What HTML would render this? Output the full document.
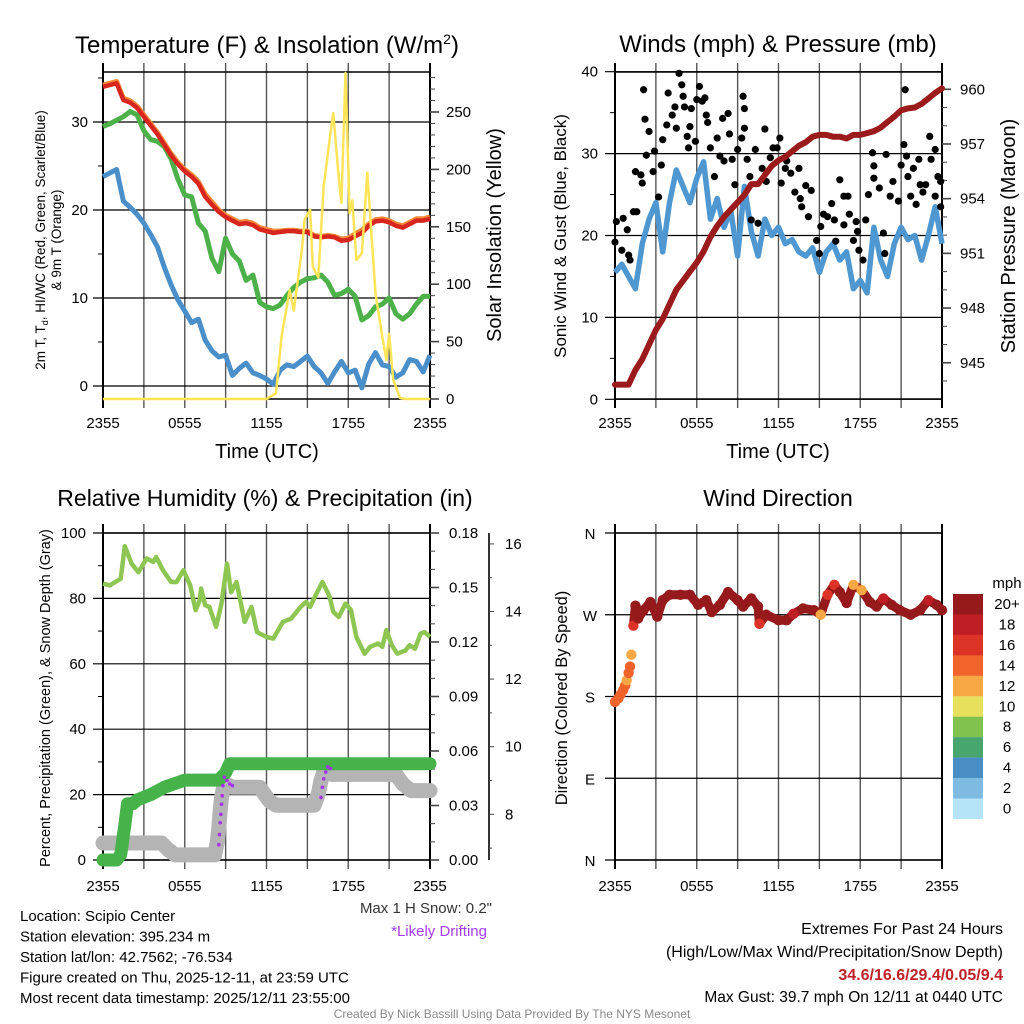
<!DOCTYPE html>
<html><head><meta charset="utf-8"><style>
html,body{margin:0;padding:0;background:#fff;}
svg{display:block;font-family:"Liberation Sans",Arial,sans-serif;}
</style></head><body>
<svg id="c" width="1024" height="1024" viewBox="0 0 1024 1024" xmlns="http://www.w3.org/2000/svg"></svg>
<script>
// ---------- DATA ----------
const halfHourT=[0,0.5,1,1.5,2,2.5,3,3.5,4,4.5,5,5.5,6,6.5,7,7.5,8,8.5,9,9.5,10,10.5,11,11.5,12,12.5,13,13.5,14,14.5,15,15.5,16,16.5,17,17.5,18,18.5,19,19.5,20,20.5,21,21.5,22,22.5,23,23.5,24];
const tempRed=[34,34.2,34.4,32.5,32.2,31.6,30.6,29.6,28.6,27.4,26.2,25.2,24.4,23.8,23,21.5,20.6,19.8,19.2,18.8,18.4,18.5,18.3,17.8,17.6,17.4,17.5,17.6,17.6,17.5,17.5,17.0,16.9,17.0,16.9,16.5,16.6,17.0,17.4,18.2,18.7,18.8,18.6,18.2,18.0,18.4,18.8,18.8,19];
const temp9mOrange=[34.2,34.4,34.6,32.7,32.4,31.8,30.8,29.8,28.8,27.6,26.4,25.4,24.6,24.0,23.2,21.8,20.9,20.0,19.4,19.0,18.6,18.7,18.5,18.0,17.8,17.6,17.6,17.7,17.7,17.6,17.6,17.1,17.0,17.1,17.0,16.7,16.8,17.3,17.7,18.4,18.9,19.0,18.8,18.4,18.2,18.6,19.0,19.0,19.2];
const dewGreen=[29.5,29.8,30.2,30.6,31.2,30.8,29,28,27.8,27.2,25.8,23.5,21.7,21.5,18.5,17.6,14.5,13,16.8,15,14.2,12,12.6,9.5,9,8.8,9.2,10.3,11.2,11.8,12.2,12.3,12.6,11.8,10.3,10.5,11,10.2,7.5,8,9,9.3,10,8.2,7.6,8.2,9.3,10.2,10.2];
const windChillBlue=[23.8,24.2,24.6,21,20.3,19.5,18.5,17.2,15.8,13.5,11.5,9.8,8.5,7.2,7.6,5.2,4,3.3,3.5,1.2,2,2.6,1.5,1.2,0.8,0.2,1.8,2.4,2.2,2.8,3.4,2.2,1.5,0.3,1.6,2.8,1.5,1.8,-0.2,2.5,3.8,2.4,2.2,1,1.5,3,2.8,1.6,3.5];
const solarT=[0,12,12.7,13.1,13.7,14,14.6,14.8,15.2,15.4,15.8,16.2,16.7,16.9,17.3,17.5,17.8,18.1,18.3,18.6,19,19.4,20,20.5,20.8,21,21.3,21.8,22.2,24];
const solarV=[0,0,5,54,95,77,130,156,165,115,106,185,232,249,193,171,284,162,173,121,127,197,92,54,34,57,17,1,0,0];

const windBlue=[15.5,16.5,15,13.5,19,22,24,18,24,28,26,24,27,29,22,24.5,21,23,17.5,26,20.5,17.5,22,20,21,19,19.5,18,17.5,18.5,15.5,18,19,17,18,13.5,14.5,13,21,17,15,19,21,19.5,20,17,20,23.5,19];
const pressure=[943.8,943.8,943.8,944.6,945.2,946,946.8,947.4,948.2,949,949.5,950,950.5,951.1,951.9,952.5,953,953.4,953.8,954.2,954.8,954.8,955.3,955.8,956.1,956.3,956.6,956.9,957.1,957.4,957.5,957.5,957.4,957.4,957.3,957.5,957.5,957.6,957.7,957.9,958.2,958.5,958.85,958.95,959,959.2,959.5,959.8,960.05];
const gustT=[0,0.1,0.6,0.5,1,1.1,0.9,1.35,1.6,1.5,1.9,2,2.1,2.2,2.5,2.3,2.8,2.9,3.2,3.4,3.5,3.8,3.9,4.2,4.4,4.5,4.7,4.9,5,5.1,5.3,5.4,5.5,5.6,5.9,6,6.2,6.4,6.6,6.7,6.8,7,7.3,7.5,7.7,7.9,8,8.3,8.4,8.6,8.8,9,9.3,9.4,9.5,9.5,9.7,9.9,10,10.3,10.5,10.8,11,11.1,11.4,11.6,11.9,12.1,12.2,12.5,12.6,12.9,13.2,13.5,13.6,13.7,14,14.2,14.4,14.8,15,15.1,15.3,15.6,15.9,16.1,16.2,16.5,16.8,16.8,17.1,17.2,17.5,17.7,17.8,17.9,18.2,18.4,18.6,18.9,19,19,19.4,19.7,19.8,19.9,20.2,20.4,20.8,21,21.3,21.2,21.4,21.5,21.7,21.9,22.1,22.3,22.4,22.6,22.8,23.1,23.2,23.5,23.5,23.7,23.9,23.9];
const gustV=[19.2,21.7,22.1,18.2,17.6,17,20.7,22.9,22.9,27.8,27.4,26.4,37.8,34.2,32.7,29.8,27.8,30.3,24.7,28.6,31.7,33.5,37.4,34.7,35.7,33.1,39.8,38.4,37,35.7,32.1,30.7,33.3,35.5,31.5,36.6,38.2,36.4,36.8,34.7,33.8,30.7,27.2,31.9,29.7,34.3,29.1,34.9,32.4,29.3,26.2,30.5,31.9,37,35.5,33.1,29.3,27.2,21.9,30.5,21.5,28.2,33,26.6,29.5,30.7,30.7,31.9,26.4,28.2,29.1,27.6,25.3,28.2,24.5,23.5,26.1,22.3,25.5,19.4,17.8,21.1,22.6,22.3,23.9,21.9,19.3,26.8,21.3,24.8,24.8,22.6,19.4,21.7,20.5,18.2,17,21.9,25,30.1,28.5,27,25.8,20.3,17.8,29.9,24.8,26.6,24.2,28.6,37.8,31.1,29.7,27.2,24.8,28.2,23.8,29.3,26.2,25.3,26.2,32.1,29.3,30.5,24.8,27.2,23.5,26.6];

const rhT=[0,0.5,1.3,1.6,2.1,2.6,3.2,3.7,3.9,4.4,5,5.4,5.9,6.4,6.8,7.1,7.2,7.5,7.8,8.3,8.7,9.1,9.4,9.8,10.4,10.9,11.3,12,12.5,13.2,13.8,14.5,14.9,15.2,15.6,16.1,16.6,16.9,17.3,17.8,18.2,18.6,19.2,19.6,20.2,20.5,20.8,21.2,21.6,22.2,22.5,22.9,23.3,23.6,24];
const rhV=[84.5,84,86,96,90.6,88,92.2,91.2,92.7,88.6,85,85,88.6,84,76.4,79.4,83,77.9,77.4,71.3,78.4,90.6,81.9,85,72.8,77.4,69.7,68.2,67.7,72.8,73.8,77.4,78.9,77.4,80.9,85,80.9,75.9,74.3,78.4,76.4,68.2,63.1,65.2,66.2,65.2,70.3,65.7,63.1,64.1,65.7,64.6,69.2,69.7,68.2];
const precipT=[0,1,1.3,1.4,1.5,1.6,1.8,2.2,2.5,3.5,4.5,6,8.5,9,9.3,12,18,24];
const precipV=[0,0,0.003,0.008,0.014,0.019,0.031,0.031,0.033,0.036,0.040,0.044,0.044,0.048,0.053,0.053,0.053,0.053];
const snowT=[0,4.3,4.8,5.3,8.2,8.4,8.5,8.6,8.7,8.9,9.5,11.5,12.2,12.7,15.5,15.8,16,16.3,16.8,21.5,22,22.6,24];
const snowV=[7.15,7.15,6.95,6.8,6.8,7.2,7.6,8.1,8.5,8.92,8.8,8.8,8.4,8.27,8.27,8.6,9.0,9.37,9.18,9.18,8.9,8.7,8.7];
const driftT=[8.5,8.55,8.6,8.65,8.7,8.75,8.8,8.9,9.1,9.3,9.5,16,16.1,16.2,16.35,16.5,16.7];
const driftV=[7.1,7.4,7.75,8.0,8.3,8.55,8.85,9.1,9.0,8.9,8.85,8.5,8.8,9.05,9.25,9.4,9.35];

const dirT=[0,0.25,0.4,0.6,0.75,0.86,1.0,1.1,1.2,1.35,1.5,1.7,2.1,2.6,3.1,3.5,4,4.8,5.5,6.1,6.7,7.1,7.7,8.3,9,9.4,10,10.5,10.6,11.1,12,12.6,13.1,13.8,14.6,15.1,15.6,16.1,16.5,17,17.5,18.1,18.7,19.2,19.7,20.3,20.9,21.7,22.4,23,23.6,24];
const dirV=[174,178,182,187,192,198,206,213,226,258,280,266,275,284,268,286,292,292,292,281,286,273,281,295,286,279,288,279,260,270,264,264,271,277,275,270,292,303,295,283,303,297,284,279,288,281,275,270,275,286,281,275];
const dirS=[14,14,15,15,14,12,14,14,13,17,21,20,21,21,21,21,21,21,21,21,21,21,21,21,21,21,21,21,17,21,21,21,19,21,21,13,17,17,21,21,13,12,21,21,18,21,21,21,21,18,21,21];

const xTickLabels=["2355","0555","1155","1755","2355"];
const tempTicks=[0,10,20,30];
const solarTicks=[0,50,100,150,200,250];
const windTicks=[0,10,20,30,40];
const presTicks=[945,948,951,954,957,960];
const rhTicks=[0,20,40,60,80,100];
const prTicks=[0,0.03,0.06,0.09,0.12,0.15,0.18];
const prTickLabels=["0.00","0.03","0.06","0.09","0.12","0.15","0.18"];
const snowTicks=[8,10,12,14,16];
const dirTicks=[0,90,180,270,360];
const dirTickLabels=["N","E","S","W","N"];
const cbLabels=["20+","18","16","14","12","10","8","6","4","2","0"];
const cbColors=["#961a1c","#bf1e24","#dd3327","#f0632b","#f7a845","#e6e05c","#7fc24d","#49a56e","#4a8ec6","#7fbae3","#b5e3f7"];

// ---------- HELPERS ----------
const NS="http://www.w3.org/2000/svg";
const svg=document.getElementById('c');
function mk(tag,attrs,parent){const e=document.createElementNS(NS,tag);for(const k in attrs)e.setAttribute(k,attrs[k]);(parent||svg).appendChild(e);return e;}
function txt(s,x,y,size,anchor,fill,parent,extra){const e=mk('text',Object.assign({x:x,y:y,'font-size':size,'text-anchor':anchor||'middle',fill:fill||'#000'},extra||{}),parent);e.textContent=s;return e;}
function grp(name){const g=mk('g',{});return g;}
function pathFrom(ts,vs,fx,fy){let d='';for(let i=0;i<ts.length;i++){d+=(i?'L':'M')+fx(ts[i]).toFixed(1)+','+fy(vs[i]).toFixed(1);}return d;}
function speedColor(s){let i=10-Math.min(10,Math.floor(s/2));return cbColors[i];}

// ---------- PANEL FRAME ----------
function frame(name,x0,w,top,bot,labelY){
  const g=grp(name+'-frame');
  for(let k=0;k<=8;k++){
    const x=x0+k*w/8;
    const l=mk('line',{x1:x,y1:top-9,x2:x,y2:bot+9,stroke:(k==0||k==8)?'#000':'#555','stroke-width':(k==0||k==8)?2:1.4},g);
    
    
  }
  const tl=mk('line',{x1:x0,y1:top,x2:x0+w,y2:top,stroke:'#000','stroke-width':1.6},g);
  
  
  const bl=mk('line',{x1:x0,y1:bot,x2:x0+w,y2:bot,stroke:'#000','stroke-width':1.6},g);
  
  
  for(let k=0;k<5;k++){
    const t=txt(xTickLabels[k],x0+k*w/4,labelY,15,'middle','#000',g);
    
    
  }
  return g;
}
function hgrid(g,x0,w,y,minor,len){
  if(!minor){const l=mk('line',{x1:x0-10,y1:y,x2:x0+w,y2:y,stroke:'#000','stroke-width':1.2},g);
  
  }
  else{const l=mk('line',{x1:x0-(len||5),y1:y,x2:x0,y2:y,stroke:'#000','stroke-width':1},g);
  
  }
}
function rtick(g,x,y,len){const l=mk('line',{x1:x,y1:y,x2:x+len,y2:y,stroke:'#444','stroke-width':len>6?1.6:1},g);
  
  }

// ================= PANEL 1 =================
(function(){
  const x0=103,w=327,top=72,bot=399;
  const X=t=>x0+t*w/24, Y=v=>386-v*8.8, YS=v=>399-v*1.148;
  const g=frame('temperature-panel',x0,w,top,bot,428);
  tempTicks.forEach(v=>{hgrid(g,x0,w,Y(v));const t=txt(String(v),88,Y(v)+5,15,'end','#000',g);
    
    });
  [5,15,25,35].forEach(v=>hgrid(g,x0,w,Y(v),true));
  solarTicks.forEach(v=>{rtick(g,x0+w,YS(v),9);const t=txt(String(v),446,YS(v)+5,15,'start','#000',g);
    
    });
  [10,20,30,40,60,70,80,90,110,120,130,140,160,170,180,190,210,220,230,240,260,270,280].forEach(v=>rtick(g,x0+w,YS(v),5));
  const title=txt('',267,53,24,'middle','#000');
  
  
  title.innerHTML='Temperature (F) &amp; Insolation (W/m<tspan dy="-9" font-size="14">2</tspan><tspan dy="9">)</tspan>';
  const xt=txt('Time (UTC)',267,458,20);
  
  
  const yt=txt('',0,0,13.5,'middle','#000',null,{transform:'translate(45,240) rotate(-90)'});
  
  
  yt.innerHTML='2m T, T<tspan dy="3" font-size="9">d</tspan><tspan dy="-3">, HI/WC (Red, Green, Scarlet/Blue)</tspan>';
  const yt2=txt('& 9m T (Orange)',0,0,13.5,'middle','#000',null,{transform:'translate(61,240) rotate(-90)'});
  
  
  const st=txt('Solar Insolation (Yellow)',0,0,20,'middle','#000',null,{transform:'translate(501,235) rotate(-90)'});
  
  
  const s1=mk('path',{d:pathFrom(halfHourT,windChillBlue,X,Y),fill:'none',stroke:'#4a8fc9','stroke-width':5,'stroke-linejoin':'round'});
  
  
  const s2=mk('path',{d:pathFrom(halfHourT,dewGreen,X,Y),fill:'none',stroke:'#4bb148','stroke-width':5,'stroke-linejoin':'round'});
  
  
  const s3=mk('path',{d:pathFrom(halfHourT,temp9mOrange,X,Y),fill:'none',stroke:'#f28a3a','stroke-width':5,'stroke-linejoin':'round'});
  
  
  const s4=mk('path',{d:pathFrom(halfHourT,tempRed,X,Y),fill:'none',stroke:'#d8261f','stroke-width':4.5,'stroke-linejoin':'round'});
  
  
  const s5=mk('path',{d:pathFrom(solarT,solarV,X,YS),fill:'none',stroke:'#fde457','stroke-width':2.5,'stroke-linejoin':'round'});
  
  
})();

// ================= PANEL 2 =================
(function(){
  const x0=615,w=327,top=72,bot=399;
  const X=t=>x0+t*w/24, Y=v=>399.3-v*8.19, YP=p=>89.3+(960-p)*18.23;
  const g=frame('winds-panel',x0,w,top,bot,428);
  windTicks.forEach(v=>{hgrid(g,x0,w,Y(v));const t=txt(String(v),598,Y(v)+5,15,'end','#000',g);
    
    });
  [5,15,25,35].forEach(v=>hgrid(g,x0,w,Y(v),true));
  presTicks.forEach(v=>{rtick(g,x0+w,YP(v),9);const t=txt(String(v),960,YP(v)+5,15,'start','#000',g);
    
    });
  [944,946,947,949,950,952,953,955,956,958,959].forEach(v=>rtick(g,x0+w,YP(v),5));
  const title=txt('Winds (mph) & Pressure (mb)',778,52,24);
  
  
  const xt=txt('Time (UTC)',778,458,20);
  
  
  const yt=txt('Sonic Wind & Gust (Blue, Black)',0,0,17,'middle','#000',null,{transform:'translate(566,236) rotate(-90)'});
  
  
  const yt2=txt('Station Pressure (Maroon)',0,0,20,'middle','#000',null,{transform:'translate(1015,236) rotate(-90)'});
  
  
  const wl=mk('path',{d:pathFrom(halfHourT,windBlue,X,Y),fill:'none',stroke:'#4f97d1','stroke-width':5.5,'stroke-linejoin':'round'});
  
  
  const gg=grp('gust-points');
  for(let i=0;i<gustT.length;i++){
    const c=mk('circle',{cx:X(gustT[i]),cy:Y(gustV[i]),r:3.6,fill:'#000'},gg);
    
    
  }
  const pl=mk('path',{d:pathFrom(halfHourT,pressure,X,YP),fill:'none',stroke:'#9b1a1c','stroke-width':6,'stroke-linejoin':'round','stroke-linecap':'round'});
  
  
})();

// ================= PANEL 3 =================
(function(){
  const x0=103,w=327,top=533,bot=860;
  const X=t=>x0+t*w/24, Y=v=>860-v*3.27, YR=v=>860-v*1816.7, YN=v=>814.3-(v-8)*33.8;
  const g=frame('humidity-panel',x0,w,top,bot,891);
  rhTicks.forEach(v=>{hgrid(g,x0,w,Y(v));const t=txt(String(v),86,Y(v)+5,15,'end','#000',g);
    
    });
  [10,30,50,70,90].forEach(v=>hgrid(g,x0,w,Y(v),true));
  prTicks.forEach((v,i)=>{rtick(g,x0+w,YR(v),9);const t=txt(prTickLabels[i],449,YR(v)+5,15,'start','#000',g);
    
    });
  [0.01,0.02,0.04,0.05,0.07,0.08,0.1,0.11,0.13,0.14,0.16,0.17].forEach(v=>rtick(g,x0+w,YR(v),5));
  const ax=mk('line',{x1:489,y1:top,x2:489,y2:bot,stroke:'#000','stroke-width':1.6},g);
  
  
  snowTicks.forEach(v=>{rtick(g,489,YN(v),5);const t=txt(String(v),505,YN(v)+5,15,'start','#000',g);
    
    });
  [7,9,11,13,15].forEach(v=>rtick(g,489,YN(v),3));
  const title=txt('Relative Humidity (%) & Precipitation (in)',265,506,23);
  
  
  const yt=txt('Percent, Precipitation (Green), & Snow Depth (Gray)',0,0,14.5,'middle','#000',null,{transform:'translate(50,698) rotate(-90)'});
  
  
  const sn=mk('path',{d:pathFrom(snowT,snowV,X,YN),fill:'none',stroke:'#b4b4b4','stroke-width':15,'stroke-linejoin':'round','stroke-linecap':'round'});
  
  
  const pr=mk('path',{d:pathFrom(precipT,precipV,X,YR),fill:'none',stroke:'#46b34a','stroke-width':13,'stroke-linejoin':'round','stroke-linecap':'round'});
  
  
  const dg=grp('drifting-points');
  for(let i=0;i<driftT.length;i++){
    const c=mk('circle',{cx:X(driftT[i]),cy:YN(driftV[i]),r:1.8,fill:'#a631ee'},dg);
    
    
  }
  const rh=mk('path',{d:pathFrom(rhT,rhV,X,Y),fill:'none',stroke:'#8dc652','stroke-width':4.5,'stroke-linejoin':'round'});
  
  
  const m=txt('Max 1 H Snow: 0.2"',492,913,15,'end','#333');
  
  
  const d=txt('*Likely Drifting',487,936,15,'end','#a43cf0');
  
  
})();

// ================= PANEL 4 =================
(function(){
  const x0=615,w=327,top=533,bot=860;
  const X=t=>x0+t*w/24, Y=d=>860-d*0.9083;
  const g=frame('direction-panel',x0,w,top,bot,891);
  dirTicks.forEach((v,i)=>{hgrid(g,x0,w,Y(v));const t=txt(dirTickLabels[i],590,Y(v)+6,15,'middle','#000',g);
    
    });
  const title=txt('Wind Direction',778,506,23);
  
  
  const yt=txt('Direction (Colored By Speed)',0,0,16.5,'middle','#000',null,{transform:'translate(567,698) rotate(-90)'});
  
  
  const dl=mk('path',{d:pathFrom(dirT.slice(9),dirV.slice(9),X,Y),fill:'none',stroke:'#961a1c','stroke-width':9,'stroke-linejoin':'round','stroke-linecap':'round'});
  
  
  const dg=grp('direction-points');
  for(let i=0;i<dirT.length;i++){
    const c=mk('circle',{cx:X(dirT[i]),cy:Y(dirV[i]),r:5.2,fill:speedColor(dirS[i])},dg);
    
    
  }
  const cb=grp('speed-colorbar');
  const mph=txt('mph',1007,588,15,'middle','#000',cb);
  
  
  for(let i=0;i<cbColors.length;i++){
    const r=mk('rect',{x:953,y:594+i*20.45,width:30,height:20.6,fill:cbColors[i]},cb);
    
    
    const t=txt(cbLabels[i],1007,609+i*20.45,15,'middle','#000',cb);
    
    
  }
})();

// ================= FOOTER TEXT =================
const info=["Location: Scipio Center","Station elevation: 395.234 m","Station lat/lon: 42.7562; -76.534","Figure created on Thu, 2025-12-11, at 23:59 UTC","Most recent data timestamp: 2025/12/11 23:55:00"];
info.forEach((s,i)=>{const t=txt(s,20,921+i*20.5,15,'start','#000');
  
  });
const e1=txt('Extremes For Past 24 Hours',1003,934,16,'end','#000');


const e2=txt('(High/Low/Max Wind/Precipitation/Snow Depth)',1003,957,16,'end','#000');


const e3=txt('34.6/16.6/29.4/0.05/9.4',1003,980,16,'end','#c0222a',null,{'font-weight':'bold'});


const e4=txt('Max Gust: 39.7 mph On 12/11 at 0440 UTC',1003,1002,15.5,'end','#000');


const cr=txt('Created By Nick Bassill Using Data Provided By The NYS Mesonet',512,1018,12,'middle','#888');


</script>
</body></html>
